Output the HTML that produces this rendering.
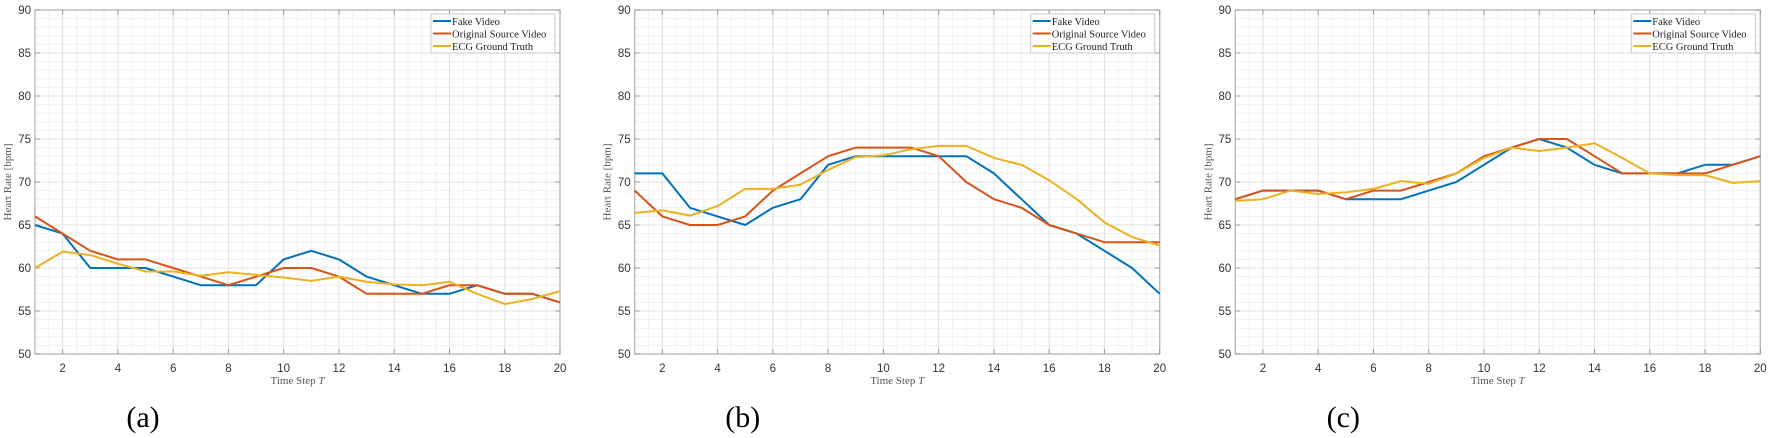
<!DOCTYPE html>
<html><head><meta charset="utf-8"><style>
html,body{margin:0;padding:0;background:#fff;width:1772px;height:438px;overflow:hidden}
</style></head><body>
<svg id="s" width="1772" height="438" xmlns="http://www.w3.org/2000/svg"></svg>
<script>
const panels=[
{L:35,lab:"(a)",
F:[65,64,60,60,60,59,58,58,58,61,62,61,59,58,57,57,58,57,57,56],
O:[66,64,62,61,61,60,59,58,59,60,60,59,57,57,57,58,58,57,57,56],
E:[60,61.9,61.5,60.5,59.6,59.6,59.1,59.5,59.2,58.9,58.5,59,58.4,58.1,58,58.4,57,55.8,56.4,57.3]},
{L:634.7,lab:"(b)",
F:[71,71,67,66,65,67,68,72,73,73,73,73,73,71,68,65,64,62,60,57],
O:[69,66,65,65,66,69,71,73,74,74,74,73,70,68,67,65,64,63,63,63],
E:[66.4,66.7,66.1,67.2,69.2,69.2,69.7,71.4,72.9,73.1,73.8,74.2,74.2,72.8,72,70.2,68,65.3,63.6,62.6]},
{L:1235.3,lab:"(c)",
F:[68,69,69,69,68,68,68,69,70,72,74,75,74,72,71,71,71,72,72,73],
O:[68,69,69,69,68,69,69,70,71,73,74,75,75,73,71,71,71,71,72,73],
E:[67.8,68,69,68.6,68.8,69.2,70.1,69.8,71,72.8,74,73.6,74,74.5,72.8,71,70.8,70.8,69.9,70.1]}];
const W=525,T=10,B=354;
let h='';
for(const p of panels){
 const L=p.L,R=L+W;
 const X=v=>L+(v-1)*W/19, Y=v=>B-(v-50)*(B-T)/40;
 // minor grid
 for(let v=1.5;v<20;v+=0.5){h+=`<line x1="${X(v)}" y1="${T}" x2="${X(v)}" y2="${B}" stroke="#f0f0f0" stroke-width="1"/>`;}
 for(let v=51;v<90;v++){h+=`<line x1="${L}" y1="${Y(v)}" x2="${R}" y2="${Y(v)}" stroke="#f0f0f0" stroke-width="1"/>`;}
 for(let v=2;v<=20;v+=2){h+=`<line x1="${X(v)}" y1="${T}" x2="${X(v)}" y2="${B}" stroke="#e2e2e2" stroke-width="1"/>`;}
 for(let v=55;v<90;v+=5){h+=`<line x1="${L}" y1="${Y(v)}" x2="${R}" y2="${Y(v)}" stroke="#e2e2e2" stroke-width="1"/>`;}
 h+=`<rect x="${L}" y="${T}" width="${W}" height="${B-T}" fill="none" stroke="#b5b5b5" stroke-width="1.3"/>`;
 for(let v=2;v<=20;v+=2){h+=`<line x1="${X(v)}" y1="${B}" x2="${X(v)}" y2="${B-5}" stroke="#999"/><line x1="${X(v)}" y1="${T}" x2="${X(v)}" y2="${T+5}" stroke="#999"/>`;
  h+=`<text x="${X(v)}" y="${B+18}" font-family="Liberation Sans,sans-serif" font-size="11.5" fill="#333" text-anchor="middle">${v}</text>`;}
 for(let v=50;v<=90;v+=5){h+=`<line x1="${L}" y1="${Y(v)}" x2="${L+5}" y2="${Y(v)}" stroke="#999"/><line x1="${R}" y1="${Y(v)}" x2="${R-5}" y2="${Y(v)}" stroke="#999"/>`;
  h+=`<text x="${L-4}" y="${Y(v)+4}" font-family="Liberation Sans,sans-serif" font-size="11.5" fill="#333" text-anchor="end">${v}</text>`;}
 h+=`<text x="${L+W/2}" y="${B+30}" font-family="Liberation Serif,serif" font-size="11" fill="#555" text-anchor="middle">Time Step <tspan font-style="italic">T</tspan></text>`;
 h+=`<text transform="translate(${L-24},${(T+B)/2}) rotate(-90)" font-family="Liberation Serif,serif" font-size="11" fill="#555" text-anchor="middle">Heart Rate [bpm]</text>`;
 const ser=[[p.F,'#0072BD'],[p.O,'#D95319'],[p.E,'#EDB120']];
 for(const [d,c] of ser){h+=`<polyline fill="none" stroke="${c}" stroke-width="2" stroke-linejoin="round" points="${d.map((v,i)=>X(i+1)+','+Y(v)).join(' ')}"/>`;}
 // legend
 const lx=R-129,ly=14;
 h+=`<rect x="${lx}" y="${ly}" width="124" height="39" fill="#fff" stroke="#c8c8c8" stroke-width="1"/>`;
 const names=['Fake Video','Original Source Video','ECG Ground Truth'];
 ser.forEach(([d,c],i)=>{const yy=ly+7+i*12.5;
  h+=`<line x1="${lx+2}" y1="${yy}" x2="${lx+20}" y2="${yy}" stroke="${c}" stroke-width="2"/>`;
  h+=`<text x="${lx+21}" y="${yy+4}" font-family="Liberation Serif,serif" font-size="10.5" fill="#222">${names[i]}</text>`;});
 h+=`<text x="${L+108}" y="${B+73}" font-family="Liberation Serif,serif" font-size="30" fill="#000" text-anchor="middle">${p.lab}</text>`;
}
document.getElementById('s').innerHTML=h;
</script>
</body></html>
